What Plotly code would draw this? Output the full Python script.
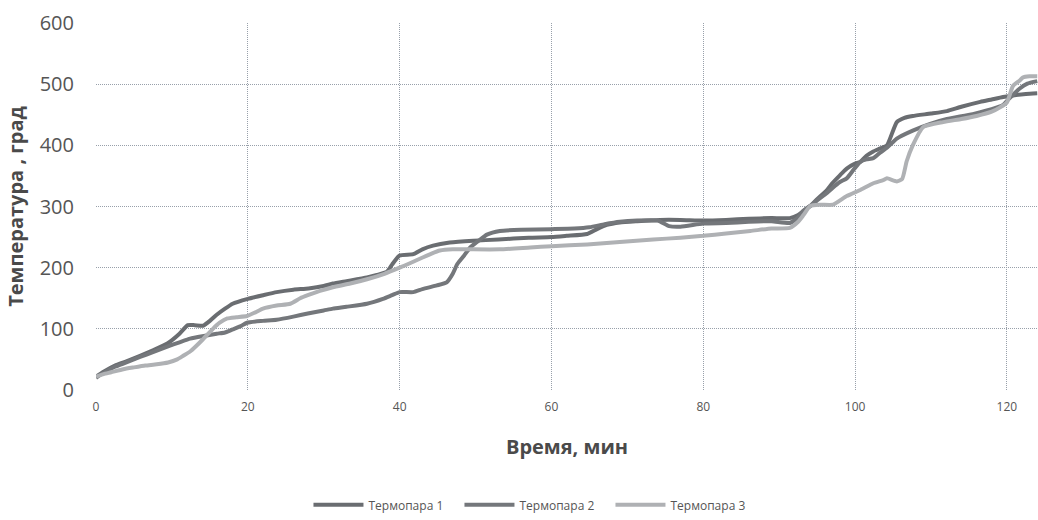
import plotly.graph_objects as go

# Thermocouple readings: time (min) and temperature (deg)
t1_time = [0, 1, 2.5, 4, 5.8, 7.5, 9.4, 11, 12.1, 13, 14.1, 15, 15.9, 17, 18, 20, 22, 23.8, 26, 28,
           30, 31.2, 33, 35.7, 37, 38.3, 39, 40, 41.8, 43, 44.4, 46.6, 49.7, 53, 57, 60, 62, 64.7,
           66, 67.3, 69, 71.3, 74.3, 77, 80, 83, 86, 89, 91.4, 92.5, 93.2, 94.1, 95, 96.3, 97, 98,
           98.9, 100, 100.7, 101.5, 102.4, 103.3, 104.2, 105.5, 106.5, 107.6, 110, 112.1, 114,
           116.5, 118, 119.5, 121, 122.5, 124]
t1_temp = [22, 30, 40, 47, 56, 65, 76, 92, 106, 106, 105, 113, 123, 133, 141, 149, 155, 160, 164, 166,
           170, 174, 178, 184, 188, 193, 205, 220, 222, 230, 236, 241, 244, 246, 249, 250, 252, 255,
           263, 270, 274, 276, 278, 278, 277, 278, 280, 281, 281, 286, 293, 301, 312, 327, 338, 351,
           362, 370, 373, 383, 390, 395, 400, 438, 445, 448, 452, 456, 463,
           471, 475, 479, 482, 484, 485]

t2_time = [0, 1, 2.5, 4, 5.8, 7.5, 9.4, 11, 12.4, 14, 15.9, 17, 18, 19, 19.9, 22, 23.8, 26, 27.9, 30,
           31.2, 33, 35.7, 37.8, 39, 40, 41.8, 43, 44.9, 46.2, 47, 47.6, 48.5, 49.3, 50.5, 51.5, 53.2,
           56, 60, 63, 65, 67, 69, 71.3, 74, 75.5, 77, 80, 83, 86, 89, 91.4, 92.5, 93.2, 94.1, 95,
           96.3, 97, 98, 98.9, 99.8, 100.7, 101.5, 102.4, 103.3, 104.2, 105.5, 107.6, 109.9, 112.1,
           115.5, 118.7, 119.5, 120.2, 121.7, 122.7, 124]
t2_temp = [20, 28, 38, 45, 54, 62, 71, 78, 84, 88, 92, 94, 99, 104, 110, 113, 115, 120, 125, 130,
           133, 136, 141, 149, 155, 160, 160, 165, 171, 176, 190, 206, 220, 233, 245, 254, 260,
           262, 263, 264, 266, 271, 275, 277, 277, 268, 267, 272, 273, 275, 276, 273, 282, 293, 301, 310,
           322, 330, 340, 346, 360, 373, 377, 379, 388, 396, 411, 424, 435, 443,
           451, 462, 466, 475, 493, 501, 505]

t3_time = [0, 1, 2, 3.6, 5, 6.5, 8, 9.5, 10.7, 11.5, 12.4, 13.2, 14.1, 15.4, 16.3, 17.3, 18.5, 19.9,
           21, 22, 23.8, 25.6, 26.9, 27.9, 29.5, 31.2, 33.5, 35.7, 38, 40, 41.5, 43.1, 44.2, 45.3, 47,
           48.9, 53.2, 57.2, 60, 64.7, 69, 73.4, 77, 80, 83, 86.2, 89, 91.4, 92.5, 93.2, 94.1, 95.4,
           97.1, 98.9, 100.7, 102.4, 103.7, 104.2, 105.5, 106.2, 106.8, 107.6, 109, 111.6, 114, 116,
           118, 119.1, 120, 120.8, 121.7, 122.1, 123, 124]
t3_temp = [22, 26, 29, 34, 37, 40, 42, 45, 50, 56, 63, 72, 83, 100, 110, 117, 119, 121,
           127, 133, 138, 141, 150, 155, 162, 168, 174, 181, 190, 200, 208, 217, 223, 228, 230,
           230, 230, 233, 235, 238, 242, 246, 249, 252, 256, 260, 264, 265, 275, 286, 301, 303,
           303, 317, 327, 338, 343, 346, 341, 345, 374, 400, 430, 438, 443, 448,
           455, 462, 470, 497, 506, 511, 513, 513]

series_names = ["Термопара 1", "Термопара 2", "Термопара 3"]
x_ticks = [0, 20, 40, 60, 80, 100, 120]
y_ticks = [0, 100, 200, 300, 400, 500, 600]

colors = ["#6a6d71", "#74777b", "#afb1b4"]
font_family = "Open Sans, Noto Sans, sans-serif"

fig = go.Figure()
for name, xs, ys, col in zip(series_names, [t1_time, t2_time, t3_time],
                             [t1_temp, t2_temp, t3_temp], colors):
    fig.add_trace(go.Scatter(
        x=xs, y=ys, name=name, mode="lines",
        line=dict(color=col, width=4, shape="spline", smoothing=0.5),
    ))

grid_col = "#98a0aa"
grid_dash = "1px,1px"
fig.update_layout(
    width=1038, height=520,
    margin=dict(l=96, r=0, t=23, b=126),
    paper_bgcolor="white", plot_bgcolor="white",
    font=dict(family=font_family, color="#555555"),
    showlegend=True,
    legend=dict(
        orientation="h", x=0.466, xanchor="center", y=-0.313, yanchor="middle",
        font=dict(size=12, color="#555555"), itemwidth=50, entrywidth=86,
        traceorder="normal", bgcolor="rgba(0,0,0,0)",
    ),
    xaxis=dict(
        range=[0, 124.1], tickvals=x_ticks, ticktext=[str(v) for v in x_ticks],
        showgrid=True, gridcolor=grid_col, griddash=grid_dash, gridwidth=1,
        zeroline=False, showline=False, ticks="",
        tickfont=dict(size=12, color="#555555"), ticklabelstandoff=8,
        title=dict(text="<b>Время, мин</b>", font=dict(size=20, color="#4a4a4a"), standoff=25),
    ),
    yaxis=dict(
        range=[0, 600], tickvals=y_ticks, ticktext=[str(v) for v in y_ticks],
        showgrid=True, gridcolor=grid_col, griddash=grid_dash, gridwidth=1,
        zeroline=False, showline=False, ticks="",
        tickfont=dict(size=20, color="#555555"), ticklabelstandoff=21,
        title=dict(text="<b>Температура , град</b>", font=dict(size=20, color="#4a4a4a"), standoff=10),
    ),
)

fig.write_html("out.html")
